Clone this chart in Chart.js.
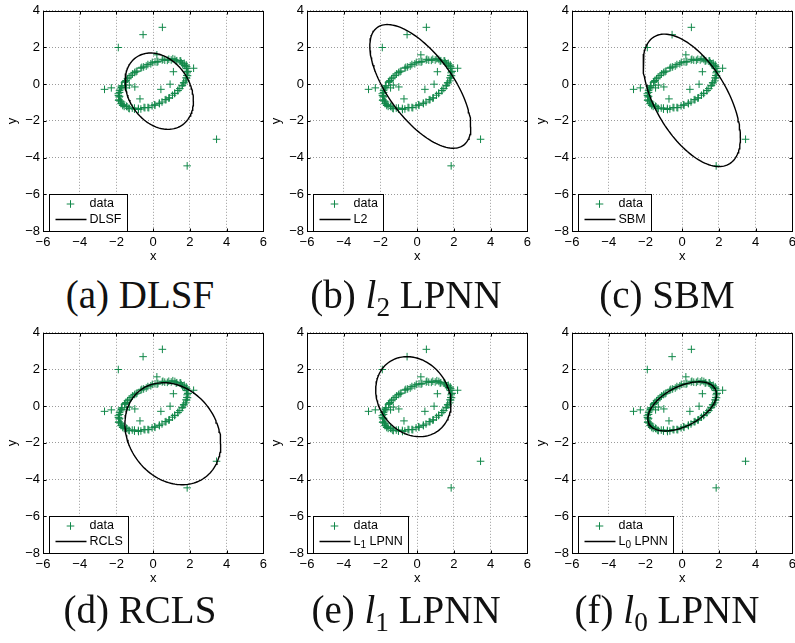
<!DOCTYPE html>
<html>
<head>
<meta charset="utf-8">
<script src="https://cdn.jsdelivr.net/npm/chart.js@4.4.1/dist/chart.umd.min.js"></script>
<style>
  html, body { margin: 0; padding: 0; background: #fff; overflow: hidden; }
  body { width: 795px; height: 643px; position: relative; }
  canvas { position: absolute; }
  .caption { position: absolute; width: 300px; text-align: center; font-family: 'Liberation Serif', 'Times New Roman', serif;
             font-size: 39px; line-height: 39px; color: #111; white-space: nowrap; }
  .caption sub { font-size: 0.7em; vertical-align: -0.28em; line-height: 0; }
</style>
</head>
<body>
<script>
// data points: noisy ring plus outliers (same set in every panel)
const ringX = [1.82, 1.72, 1.69, 1.53, 1.46, 1.29, 1.18, 0.98, 0.85, 0.63, 0.49, 0.26, 0.10, -0.13, -0.29, -0.52, -0.67, -0.88, -1.01, -1.21,
               -1.31, -1.48, -1.56, -1.69, -1.73, -1.83, -1.83, -1.89, -1.85, -1.86, -1.78, -1.75, -1.64, -1.58, -1.42, -1.33, -1.14, -1.02, -0.81, -0.67,
               -0.45, -0.29, -0.06, 0.10, 0.33, 0.48, 0.70, 0.85, 1.05, 1.17, 1.35, 1.45, 1.59, 1.66, 1.77, 1.79, 1.87, 1.85, 1.88, 1.82,
               1.80, 1.60, 1.50, 1.25, 1.07, 0.77, 0.53, 0.21, -0.05, -0.38, -0.62, -0.93, -1.13, -1.40, -1.53, -1.73, -1.78, -1.90, -1.83, -1.88,
               -1.72, -1.66, -1.45, -1.30, -1.02, -0.80, -0.50, -0.24, 0.08, 0.34, 0.65, 0.88, 1.17, 1.34, 1.57, 1.67, 1.82, 1.83, 1.90, 1.80];
const ringY = [0.96, 1.02, 1.14, 1.17, 1.27, 1.28, 1.35, 1.32, 1.36, 1.31, 1.32, 1.24, 1.22, 1.11, 1.07, 0.94, 0.87, 0.72, 0.64, 0.47,
               0.38, 0.20, 0.10, -0.08, -0.18, -0.35, -0.45, -0.62, -0.70, -0.85, -0.92, -1.06, -1.10, -1.21, -1.23, -1.31, -1.30, -1.36, -1.32, -1.35,
               -1.28, -1.27, -1.18, -1.15, -1.03, -0.97, -0.84, -0.76, -0.60, -0.51, -0.34, -0.24, -0.06, 0.08, 0.18, 0.35, 0.46, 0.62, 0.70, 0.85,
               1.05, 1.10, 1.27, 1.26, 1.39, 1.30, 1.36, 1.20, 1.19, 0.99, 0.92, 0.68, 0.56, 0.30, 0.15, -0.11, -0.26, -0.52, -0.66, -0.88,
               -0.97, -1.16, -1.20, -1.33, -1.30, -1.38, -1.27, -1.28, -1.12, -1.06, -0.85, -0.74, -0.49, -0.35, -0.09, 0.07, 0.33, 0.48, 0.70, 0.88];
const outlierX = [0.50, -0.55, -1.90, 0.20, 2.20, 1.10, 0.92, 0.42, -2.65, -2.28, -1.00, -1.30, -1.45, -0.72, 3.45, 1.85];
const outlierY = [3.10, 2.70, 2.00, 1.60, 0.87, 0.68, 0.00, -0.28, -0.28, -0.20, -0.15, -0.05, -0.20, -0.80, -3.00, -4.45];

// fitted ellipse of each method: centre, half width, half height, y offset at the rightmost point
const fitLabels = ['DLSF', 'L2', 'SBM', 'RCLS', 'L_1 LPNN', 'L_0 LPNN'];
const fitCx = [0.33, 0.17, 0.52, 1.07, -0.21, 0.00];
const fitCy = [-0.38, -0.12, -0.88, -1.50, 0.52, -0.01];
const fitHalfW = [1.86, 2.75, 2.65, 2.61, 2.05, 1.87];
const fitHalfH = [2.08, 3.37, 3.61, 2.78, 2.18, 1.34];
const fitYAtRight = [-0.53, -2.20, -2.03, -0.54, -0.37, 0.66];

const captions = ['(a) DLSF', '(b) <i>l</i><sub>2</sub> LPNN', '(c) SBM',
                  '(d) RCLS', '(e) <i>l</i><sub>1</sub> LPNN', '(f) <i>l</i><sub>0</sub> LPNN'];

const xTicks = [-6, -4, -2, 0, 2, 4, 6];
const yTicks = [-8, -6, -4, -2, 0, 2, 4];

// layout
const plotLeft = [43, 307, 572];
const plotTop = [10, 332];
const captionCenter = [140, 406, 667];
const captionBase = [308, 623];

const green = '#12884a';
const sans = "'Liberation Sans', Arial, sans-serif";
const tickFont = { family: sans, size: 13 };
const fmt = v => (v < 0 ? '\u2212' + Math.abs(v) : '' + v);

const points = ringX.map((x, k) => ({ x: x, y: ringY[k] }))
  .concat(outlierX.map((x, k) => ({ x: x, y: outlierY[k] })));

function ellipsePoints(i) {
  const pts = [];
  const k = Math.sqrt(fitHalfH[i] * fitHalfH[i] - fitYAtRight[i] * fitYAtRight[i]);
  for (let s = 0; s <= 140; s++) {
    const t = s / 140 * 2 * Math.PI;
    pts.push({ x: fitCx[i] + fitHalfW[i] * Math.cos(t), y: fitCy[i] + fitYAtRight[i] * Math.cos(t) + k * Math.sin(t) });
  }
  return pts;
}

// label text like 'L_1 LPNN' -> L with subscript 1
function drawLabel(ctx, text, x, y, measureOnly) {
  const parts = text.split(/_(\d)/);
  let cx = x;
  parts.forEach((p, j) => {
    const sub = j % 2 === 1;
    ctx.font = (sub ? '10px ' : '12.5px ') + sans;
    if (!measureOnly) ctx.fillText(p, cx, y + (sub ? 4 : 0));
    cx += ctx.measureText(p).width;
  });
  return cx - x;
}

// box, inward ticks and legend drawn like matlab
const boxPlugin = {
  id: 'matlabBox',
  afterDatasetsDraw(chart) {
    const { ctx, chartArea: a, scales: { x, y } } = chart;
    const L = Math.round(a.left) + 0.5, T = Math.round(a.top) + 0.5;
    const R = Math.round(a.right) + 0.5, B = Math.round(a.bottom) + 0.5;
    ctx.save();
    ctx.strokeStyle = '#000';
    ctx.lineWidth = 1;
    ctx.beginPath();
    xTicks.forEach(v => {
      const px = Math.round(x.getPixelForValue(v)) + 0.5;
      ctx.moveTo(px, B); ctx.lineTo(px, B - 3);
      ctx.moveTo(px, T); ctx.lineTo(px, T + 3);
    });
    yTicks.forEach(v => {
      const py = Math.round(y.getPixelForValue(v)) + 0.5;
      ctx.moveTo(L, py); ctx.lineTo(L + 3, py);
      ctx.moveTo(R, py); ctx.lineTo(R - 3, py);
    });
    ctx.stroke();
    ctx.strokeRect(L, T, R - L, B - T);

    // legend
    const ds = chart.data.datasets;
    ctx.font = '12.5px ' + sans;
    const tw = Math.max(ctx.measureText(ds[0].label).width, drawLabel(ctx, ds[1].label, 0, 0, true));
    const bw = Math.round(40 + tw + 6), bh = 37;
    const bx = L + 6, by = B - bh;
    ctx.fillStyle = '#fff';
    ctx.fillRect(bx, by, bw, bh);
    ctx.strokeRect(bx, by, bw, bh);
    ctx.strokeStyle = ds[0].borderColor;
    ctx.lineWidth = 1;
    ctx.beginPath();
    ctx.moveTo(bx + 21 - 3.8, by + 9.5); ctx.lineTo(bx + 21 + 3.8, by + 9.5);
    ctx.moveTo(bx + 21, by + 9.5 - 3.8); ctx.lineTo(bx + 21, by + 9.5 + 3.8);
    ctx.stroke();
    ctx.strokeStyle = '#000';
    ctx.lineWidth = 1.5;
    ctx.beginPath();
    ctx.moveTo(bx + 6, by + 25); ctx.lineTo(bx + 37, by + 25);
    ctx.stroke();
    ctx.fillStyle = '#000';
    ctx.textBaseline = 'middle';
    ctx.font = '12.5px ' + sans;
    ctx.fillText(ds[0].label, bx + 40, by + 9.5);
    drawLabel(ctx, ds[1].label, bx + 40, by + 25);
    ctx.restore();
  }
};

fitLabels.forEach((lab, i) => {
  const col = i % 3, row = Math.floor(i / 3);
  const canvas = document.createElement('canvas');
  canvas.width = 271;
  canvas.height = 270;
  canvas.style.left = (plotLeft[col] - 43) + 'px';
  canvas.style.top = (plotTop[row] - 10) + 'px';
  document.body.appendChild(canvas);

  new Chart(canvas, {
    type: 'scatter',
    data: {
      datasets: [
        { label: 'data', data: points, order: 1, pointStyle: 'cross', pointRadius: 3.8,
          borderColor: green, backgroundColor: green, borderWidth: 1 },
        { label: lab, data: ellipsePoints(i), order: 0, showLine: true, pointRadius: 0,
          borderColor: '#000', borderWidth: 1.4, tension: 0, fill: false }
      ]
    },
    options: {
      responsive: false,
      animation: false,
      events: [],
      layout: { padding: { top: 10, right: 5, left: 0, bottom: 0 } },
      plugins: { legend: { display: false }, tooltip: { enabled: false } },
      scales: {
        x: {
          type: 'linear', min: -6, max: 6,
          afterFit: s => { s.height = 39; },
          afterBuildTicks: s => { s.ticks = xTicks.map(v => ({ value: v })); },
          ticks: { padding: 4, color: '#000', font: tickFont, callback: fmt, maxRotation: 0, autoSkip: false },
          grid: { color: '#9a9a9a', lineWidth: 1, drawTicks: false },
          border: { display: false, dash: [1, 2] },
          title: { display: true, text: 'x', color: '#000', font: tickFont, padding: { top: 0, bottom: 6 } }
        },
        y: {
          type: 'linear', min: -8, max: 4,
          afterFit: s => { s.width = 43; },
          afterBuildTicks: s => { s.ticks = yTicks.map(v => ({ value: v })); },
          ticks: { padding: 3, color: '#000', font: tickFont, callback: fmt, autoSkip: false },
          grid: { color: '#9a9a9a', lineWidth: 1, drawTicks: false },
          border: { display: false, dash: [1, 2] },
          title: { display: true, text: 'y', color: '#000', font: tickFont, padding: { top: 5, bottom: 0 } }
        }
      }
    },
    plugins: [boxPlugin]
  });

  const cap = document.createElement('div');
  cap.className = 'caption';
  cap.innerHTML = captions[i];
  cap.style.left = (captionCenter[col] - 150) + 'px';
  cap.style.top = (captionBase[row] - 32.6) + 'px';
  document.body.appendChild(cap);
});
</script>
</body>
</html>
